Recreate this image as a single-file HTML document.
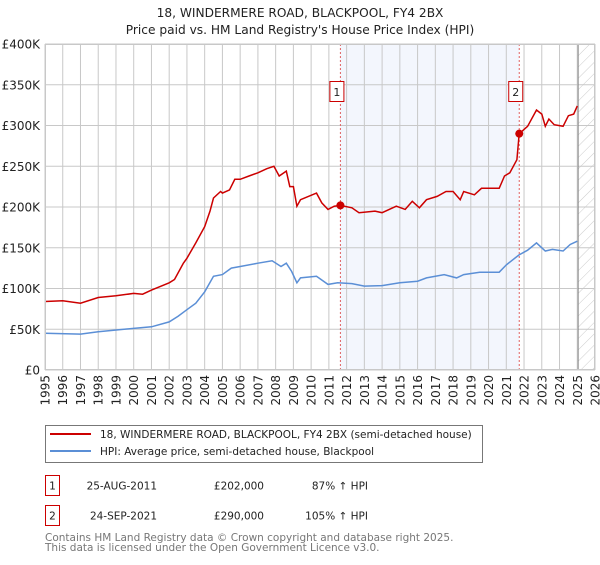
<!DOCTYPE html>
<html><head><meta charset="utf-8"><style>
body{margin:0;background:#fff;}
svg text{font-family:"DejaVu Sans","Liberation Sans",sans-serif;}
</style></head><body>
<svg id="chart" width="600" height="560" xmlns="http://www.w3.org/2000/svg">
<defs>
<pattern id="hatch" width="8" height="8" patternUnits="userSpaceOnUse" patternTransform="rotate(45)"><line x1="0" y1="0" x2="0" y2="8" stroke="#ccc" stroke-width="1"/></pattern>
</defs>
<text x="300" y="17" text-anchor="middle" font-size="12.2" fill="#222">18, WINDERMERE ROAD, BLACKPOOL, FY4 2BX</text>
<text x="300" y="34" text-anchor="middle" font-size="12.2" fill="#222">Price paid vs. HM Land Registry's House Price Index (HPI)</text>
<g id="plot"></g>
<g>
<rect x="45.5" y="425.5" width="437" height="37" fill="#fff" stroke="#777"/>
<line x1="50" y1="434" x2="91" y2="434" stroke="#cc0000" stroke-width="2"/>
<text x="100" y="438" font-size="10.5" fill="#222">18, WINDERMERE ROAD, BLACKPOOL, FY4 2BX (semi-detached house)</text>
<line x1="50" y1="451" x2="91" y2="451" stroke="#5b8fd6" stroke-width="2"/>
<text x="100" y="455" font-size="10.5" fill="#222">HPI: Average price, semi-detached house, Blackpool</text>
</g>
<g font-size="10.5" fill="#222">
<rect x="45.5" y="475.5" width="14" height="20" fill="#fff" stroke="#cc0000"/>
<text x="52.5" y="489.5" text-anchor="middle">1</text>
<text x="157" y="489.5" text-anchor="end">25-AUG-2011</text>
<text x="264" y="489.5" text-anchor="end">£202,000</text>
<text x="368" y="489.5" text-anchor="end">87% ↑ HPI</text>
<rect x="45.5" y="505.5" width="14" height="20" fill="#fff" stroke="#cc0000"/>
<text x="52.5" y="519.5" text-anchor="middle">2</text>
<text x="157" y="519.5" text-anchor="end">24-SEP-2021</text>
<text x="264" y="519.5" text-anchor="end">£290,000</text>
<text x="368" y="519.5" text-anchor="end">105% ↑ HPI</text>
</g>
<text x="45" y="541" font-size="10.5" fill="#777">Contains HM Land Registry data © Crown copyright and database right 2025.</text>
<text x="45" y="551" font-size="10.5" fill="#777">This data is licensed under the Open Government Licence v3.0.</text>
</svg>
<script>
const yTicks=[0,50,100,150,200,250,300,350,400];
const yTickLabels=["£0","£50K","£100K","£150K","£200K","£250K","£300K","£350K","£400K"];
const xYears=[1995,1996,1997,1998,1999,2000,2001,2002,2003,2004,2005,2006,2007,2008,2009,2010,2011,2012,2013,2014,2015,2016,2017,2018,2019,2020,2021,2022,2023,2024,2025,2026];
const propYears=[1995,1996,1997,1998,1999,2000,2000.5,2001,2002,2002.3,2002.8,2003,2003.5,2004,2004.3,2004.5,2004.9,2005,2005.4,2005.7,2006,2006.5,2007,2007.5,2007.9,2008.2,2008.6,2008.8,2009,2009.2,2009.4,2010.3,2010.6,2010.95,2011.3,2011.65,2012.3,2012.7,2013.6,2014,2014.8,2015.3,2015.7,2016.1,2016.5,2017.1,2017.6,2018,2018.4,2018.6,2019.2,2019.6,2020.6,2020.9,2021.2,2021.6,2021.73,2022.2,2022.7,2023,2023.2,2023.4,2023.7,2024.2,2024.5,2024.8,2025];
const propValues=[84,85,82,89,91,94,93,98,107,111,131,137,156,176,195,211,219,217,221,234,234,238,242,247,250,238,244,225,225,201,209,217,205,197,201,202,199,193,195,193,201,197,207,199,209,213,219,219,209,219,215,223,223,238,242,258,290,299,319,314,299,308,301,299,312,314,324];
const hpiYears=[1995,1997,1998,2000,2001,2002,2002.5,2003,2003.5,2004,2004.5,2005,2005.5,2006,2007,2007.8,2008.3,2008.6,2008.9,2009.2,2009.4,2010.3,2010.95,2011.5,2012.3,2013,2014,2015,2016,2016.5,2017.5,2018.2,2018.6,2019.5,2020.6,2021,2021.7,2022.2,2022.7,2023.2,2023.6,2024.2,2024.6,2025];
const hpiValues=[45,44,47,51,53,59,66,74,82,96,115,117,125,127,131,134,127,131,121,107,113,115,105,107,106,103,103.5,107,109,113,117,113,117,120,120,129,141,147,156,146,148,146,154,158];
const saleYears=[2011.65,2021.73];
const saleValues=[202,290];
const saleLabels=["1","2"];
const dataEndYear=2025.05;

const X0=45,X1=595,Y0=370,Y1=44;
const xs=y=>X0+(y-1995)/(2026-1995)*(X1-X0);
const ys=v=>Y0-v/400*(Y0-Y1);
const NS="http://www.w3.org/2000/svg";
const g=document.getElementById('plot');
function mk(tag,attrs){const e=document.createElementNS(NS,tag);for(const k in attrs)e.setAttribute(k,attrs[k]);g.appendChild(e);return e;}

let r=mk('rect',{x:xs(saleYears[0]),y:Y1,width:xs(saleYears[1])-xs(saleYears[0]),height:Y0-Y1,fill:'#f3f6fd'});


let h=mk('rect',{x:xs(dataEndYear),y:Y1,width:X1-xs(dataEndYear),height:Y0-Y1,fill:'url(#hatch)'});



yTicks.forEach((t,i)=>{
 let l=mk('line',{x1:X0,x2:X1,y1:ys(t),y2:ys(t),stroke:'#c8c8c8','stroke-width':1});
 
 
 let tx=mk('text',{x:X0-5,y:ys(t)+4.5,'text-anchor':'end','font-size':12,fill:'#222'});
 tx.textContent=yTickLabels[i];
 
 
});
xYears.forEach(yr=>{
 let l=mk('line',{x1:xs(yr),x2:xs(yr),y1:Y1,y2:Y0,stroke:'#c8c8c8','stroke-width':1});
 
 
 let tx=mk('text',{x:0,y:0,'text-anchor':'end','font-size':12,fill:'#222',transform:`translate(${xs(yr)+4.5},375) rotate(-90)`});
 tx.textContent=yr;
 
 
});
let dl=mk('line',{x1:xs(dataEndYear),x2:xs(dataEndYear),y1:Y1,y2:Y0,stroke:'#888','stroke-width':1});



saleYears.forEach((yr,i)=>{
 let l=mk('line',{x1:xs(yr),x2:xs(yr),y1:Y1,y2:Y0,stroke:'#e06060','stroke-width':1,'stroke-dasharray':'2,2'});
 
 
});

function path(xa,va){return xa.map((x,i)=>(i?'L':'M')+xs(x).toFixed(1)+','+ys(va[i]).toFixed(1)).join('');}
let hp=mk('path',{d:path(hpiYears,hpiValues),fill:'none',stroke:'#5b8fd6','stroke-width':1.5});


let pp=mk('path',{d:path(propYears,propValues),fill:'none',stroke:'#cc0000','stroke-width':1.5});



saleYears.forEach((yr,i)=>{
 let c=mk('circle',{cx:xs(yr),cy:ys(saleValues[i]),r:4,fill:'#cc0000'});
 
 
 let b=mk('rect',{x:xs(yr)-10.5,y:81.5,width:14,height:20,fill:'#fff',stroke:'#cc0000'});
 
 
 let t=mk('text',{x:xs(yr)-3.5,y:96,'text-anchor':'middle','font-size':11,fill:'#222'});
 t.textContent=saleLabels[i];
 
 
});
let ax=mk('rect',{x:X0+0.5,y:Y1+0.5,width:X1-X0-1,height:Y0-Y1-1,fill:'none',stroke:'#c8c8c8'});


</script>
</body></html>
